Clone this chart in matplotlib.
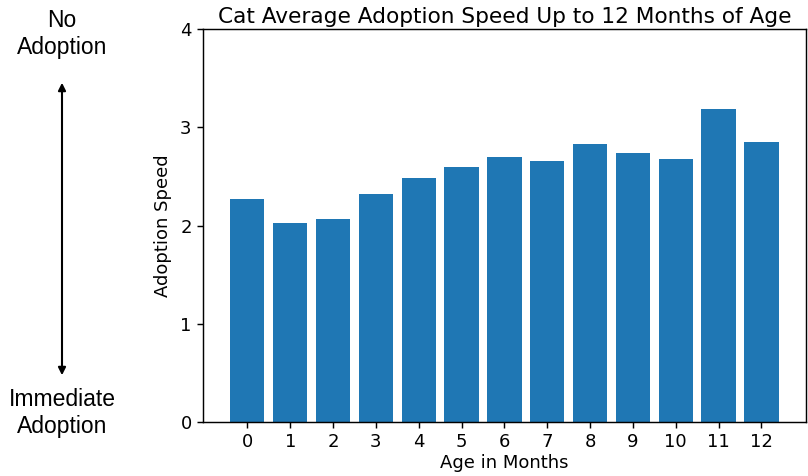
import matplotlib
matplotlib.use('Agg')
import matplotlib.pyplot as plt

# Average adoption speed of cats by age in months
ages = [0, 1, 2, 3, 4, 5, 6, 7, 8, 9, 10, 11, 12]
speed = [2.27, 2.03, 2.07, 2.32, 2.48, 2.60, 2.70, 2.66, 2.83, 2.74, 2.68, 3.19, 2.85]

s = 1.3
plt.rcParams['font.size'] = 10 * s
plt.rcParams['axes.linewidth'] = 0.8 * s
plt.rcParams['xtick.major.width'] = 0.8 * s
plt.rcParams['ytick.major.width'] = 0.8 * s
plt.rcParams['xtick.major.size'] = 3.5 * s
plt.rcParams['ytick.major.size'] = 3.5 * s

fig = plt.figure(figsize=(8.08, 4.76), dpi=100)
ax = fig.add_axes([0.251, 0.1134, 0.7465, 0.8256])
ax.bar(ages, speed, color='#1f77b4')
ax.set_xticks(ages)
ax.set_yticks([0, 1, 2, 3, 4])
ax.set_ylim(0, 4)
ax.set_xlabel('Age in Months', labelpad=2)
ax.set_ylabel('Adoption Speed', labelpad=6)
ax.set_title('Cat Average Adoption Speed Up to 12 Months of Age', fontsize=12 * s, pad=4)

# scale labels on the left
fig.text(62 / 808, 1 - 34 / 476, 'No\nAdoption', ha='center', va='center',
         family='Liberation Sans', fontsize=16.5, linespacing=1.2)
fig.text(62 / 808, 1 - 413 / 476, 'Immediate\nAdoption', ha='center', va='center',
         family='Liberation Sans', fontsize=16.5, linespacing=1.2)
fig.patches.append(matplotlib.patches.FancyArrowPatch(
    (62 / 808, 1 - 80 / 476), (62 / 808, 1 - 378 / 476), transform=fig.transFigure,
    arrowstyle='<|-|>', mutation_scale=11, color='black', lw=1.5))

fig.savefig('out.png', dpi=100)
